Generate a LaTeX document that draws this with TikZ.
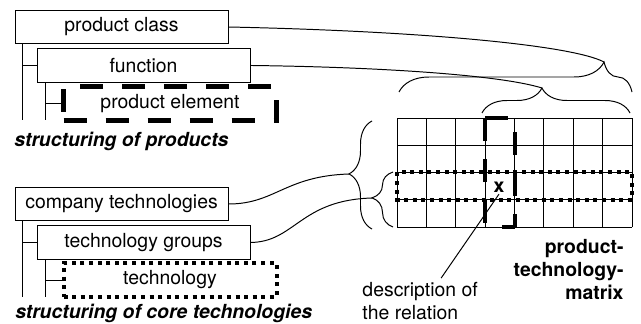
\documentclass[tikz,border=0pt]{standalone}
\usepackage{fontspec}
\setmainfont{TeX Gyre Heros}
\usetikzlibrary{decorations.pathreplacing}

\newcommand{\figsize}{\fontsize{13.8}{16.4}\selectfont}

\tikzset{
  box/.style={draw, minimum width=5.325cm, minimum height=0.84cm, inner sep=0pt},
  elembox/.style={box, line width=0.125cm, dash pattern=on 0.575cm off 0.475cm},
  dotbox/.style={line width=0.1cm, dash pattern=on 0.1cm off 0.115cm},
  colmark/.style={line width=0.1cm, dash pattern=on 0.575cm off 0.45cm},
  hbrace/.style={decorate, decoration={brace, amplitude=#1}},
  title/.style={anchor=base west, inner sep=0pt, font=\figsize\bfseries\itshape}
}

\begin{document}
\begin{tikzpicture}[line width=0.7pt, execute at begin picture={\figsize}, font=\figsize]
\useasboundingbox (0,0) rectangle (16.025,8.075);

% products
\node[box] (pclass) at (3.038,7.400) {product class};
\node[box] (func) at (3.588,6.438) {function};
\node[elembox] (pelem) at (4.250,5.488) {product element};
\draw (0.550,0 |- pclass.south) -- (0.550,5.075);
\draw (0.550,0 |- func.west) -- (func.west);
\draw (1.125,0 |- func.south) -- (1.125,5.075);
\draw (1.125,0 |- pelem.west) -- (pelem.west);
\node[title] (prodtitle) at (0.350,4.410) {structuring of products};

% core technologies
\node[box] (ctech) at (3.038,2.975) {company technologies};
\node[box] (tgroups) at (3.588,2.013) {technology groups};
\node[box, dotbox] (tech) at (4.250,1.075) {technology};
\draw (0.550,0 |- ctech.south) -- (0.550,0.650);
\draw (0.550,0 |- tgroups.west) -- (tgroups.west);
\draw (1.125,0 |- tgroups.south) -- (1.125,0.650);
\draw (1.125,0 |- tech.west) -- (tech.west);
\node[title] (techtitle) at (0.370,0.110) {structuring of core technologies};

% matrix
\foreach \i in {0,...,8}
  \draw (9.925+0.734375*\i,2.400) -- (9.925+0.734375*\i,5.125);
\foreach \j in {0,...,4}
  \draw (9.925,2.400+0.68125*\j) -- (15.800,2.400+0.68125*\j);
\draw[dotbox] (9.925,3.763) rectangle (15.800,3.081);
\draw[colmark] (12.128,5.125) -- (12.863,5.125);
\draw[colmark] (12.128,5.125) -- (12.128,2.400);
\draw[colmark, dash phase=0.675cm] (12.863,5.125) -- (12.863,2.400);
\draw[colmark, dash phase=0.250cm] (12.863,2.400) -- (12.128,2.400);
\node[font=\figsize\bfseries, inner sep=1pt] (xmark) at (12.475,3.400) {x};

% braces
\draw[hbrace=0.75cm, decoration={aspect=0.88}] (9.975,5.775) -- (15.800,5.775);
\draw[hbrace=0.625cm, decoration={aspect=0.405}] (12.050,5.250) -- (15.750,5.250);
\draw[hbrace=0.575cm, decoration={aspect=0.51}] (9.300,2.350) -- (9.300,5.050);
\draw[hbrace=0.525cm, decoration={aspect=0.53}] (9.825,2.400) -- (9.825,3.775);
\coordinate (allcols) at (15.100,6.525);
\coordinate (somecols) at (13.550,5.875);
\coordinate (allrows) at (8.725,3.725);
\coordinate (somerows) at (9.300,3.125);

\draw (pclass.east) .. controls (10.500,7.300) and (14.300,6.950) .. (allcols);
\draw (func.east) .. controls (9.500,6.400) and (12.500,6.200) .. (somecols);
\draw (ctech.east) .. controls (6.875,2.975) and (7.125,3.675) .. (allrows);
\draw (tgroups.east) .. controls (7.375,2.025) and (7.500,3.075) .. (somerows);

% labels
\node[anchor=south west, align=left, inner sep=0pt] (desc) at (9.050,0.060) {description of\\the relation};
\draw ([xshift=0.525cm, yshift=0.1cm]desc.north) -- (xmark.south);
\node[anchor=south east, align=right, inner sep=0pt, font=\figsize\bfseries] (ptmlabel) at (15.600,0.575) {product-\\technology-\\matrix};
\end{tikzpicture}
\end{document}
